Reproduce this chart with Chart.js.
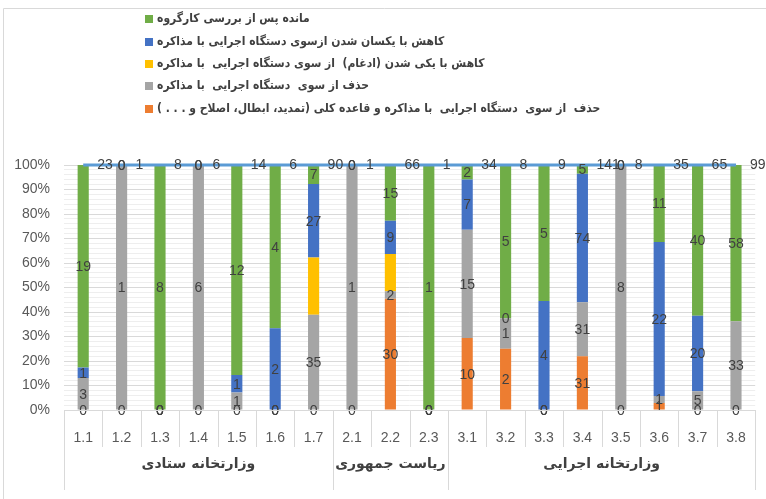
<!DOCTYPE html>
<html>
<head>
<meta charset="utf-8">
<script src="https://cdn.jsdelivr.net/npm/chart.js@4.4.1/dist/chart.umd.min.js"></script>
<style>
  html, body { margin: 0; padding: 0; background: #fff; }
  #wrap { width: 766px; height: 499px; }
</style>
</head>
<body>
<div id="wrap"><canvas id="chart" width="766" height="499"></canvas></div>
<script>
// categorias e grupos do eixo X
const categories = ['1.1', '1.2', '1.3', '1.4', '1.5', '1.6', '1.7', '2.1', '2.2', '2.3',
                    '3.1', '3.2', '3.3', '3.4', '3.5', '3.6', '3.7', '3.8'];
const groupLabels = ['وزارتخانه ستادی', 'ریاست جمهوری', 'وزارتخانه اجرایی'];
const groupSizes  = [7, 3, 8];

// contagens por série (null = célula vazia, sem rótulo)
const orange = [0, 0, 0, 0, 0, 0, 0,   0, 30, 0,   10, 2, 0, 31, 0, 1, 0, 0];
const gray   = [3, 1, 0, 6, 1, 0, 35,  1, 2, 0,    15, 1, 0, 31, 8, 1, 5, 33];
const yellow = [0, 0, 0, 0, 0, 0, 21,  0, 10, 0,   0, 0, 0, 0, 0, 0, 0, 0];
const blue   = [1, 0, 0, 0, 1, 2, 27,  0, 9, 0,    7, 0, 4, 74, 0, 22, 20, null];
const green  = [19, 0, 8, 0, 12, 4, 7, 0, 15, 1,   2, 5, 5, 5, 0, 11, 40, 58];
const totals = [23, 1, 8, 6, 14, 6, 90, 1, 66, 1, 34, 8, 9, 141, 8, 35, 65, 99];

const seriesNames = [
  'حذف  از سوی  دستگاه اجرایی  با مذاکره و قاعده کلی (تمدید، ابطال، اصلاح و . . . )',
  'حذف از سوی  دستگاه اجرایی  با مذاکره',
  'کاهش با یکی شدن (ادغام)  از سوی دستگاه اجرایی  با مذاکره',
  'کاهش با یکسان شدن ازسوی دستگاه اجرایی با مذاکره',
  'مانده پس از بررسی کارگروه',
];

const COLORS = {
  orange: '#ED7D31',
  gray:   '#A5A5A5',
  yellow: '#FFC000',
  blue:   '#4472C4',
  green:  '#70AD47',
  line:   '#5B9BD5',
  text:   '#404040',
  axis:   '#595959',
  grid:   '#d9d9d9',
  gridMinor: '#eeeeee',
};

const NUM_FONT = '"Liberation Sans", Arial, sans-serif';
const FA_FONT  = '"DejaVu Sans", sans-serif';
const FA_LEGEND_FONT = '"DejaVu Sans Condensed", "DejaVu Sans", sans-serif';

const serieCounts = [orange, gray, yellow, blue, green];
const serieColors = [COLORS.orange, COLORS.gray, COLORS.yellow, COLORS.blue, COLORS.green];
const serieLabels = [true, true, false, true, true];

// 100% empilhado: soma de cada coluna
const colSum = categories.map((_, i) => serieCounts.reduce((a, s) => a + (s[i] || 0), 0));
const pct = (arr) => arr.map((v, i) => colSum[i] ? (v || 0) / colSum[i] * 100 : 0);

const barDatasets = serieCounts.map((arr, k) => ({
  type: 'bar',
  label: seriesNames[k],
  data: pct(arr),
  counts: arr,
  showLabels: serieLabels[k],
  backgroundColor: serieColors[k],
  stack: 'pct',
  order: 1,
  barPercentage: 0.29,
  categoryPercentage: 1,
}));

const lineDataset = {
  type: 'line',
  label: 'total',
  data: totals.map(() => 100),
  counts: totals,
  borderColor: COLORS.line,
  borderWidth: 3,
  pointRadius: 0,
  stack: 'total',
  order: 0,
  clip: false,
};

// rótulos de dados (segmentos + totais)
const labelsPlugin = {
  id: 'dataLabels',
  afterDatasetsDraw(chart) {
    const ctx = chart.ctx;
    ctx.save();
    ctx.font = '14px ' + NUM_FONT;
    ctx.fillStyle = COLORS.text;
    ctx.textBaseline = 'middle';
    chart.data.datasets.forEach((ds, di) => {
      const meta = chart.getDatasetMeta(di);
      if (ds.type === 'bar') {
        if (!ds.showLabels) return;
        ctx.textAlign = 'center';
        meta.data.forEach((el, i) => {
          const v = ds.counts[i];
          if (v === null || v === undefined) return;
          ctx.fillText(String(v), el.x, (el.y + el.base) / 2 + 1);
        });
      } else {
        ctx.textAlign = 'left';
        meta.data.forEach((el, i) => {
          ctx.fillText(String(ds.counts[i]), el.x + 14, el.y);
        });
      }
    });
    ctx.restore();
  },
};

// eixo multinível, legenda e moldura
const decorPlugin = {
  id: 'decor',
  afterDraw(chart) {
    const ctx = chart.ctx;
    const area = chart.chartArea;
    const step = (area.right - area.left) / categories.length;
    ctx.save();

    // moldura do gráfico
    ctx.strokeStyle = COLORS.grid;
    ctx.lineWidth = 1;
    ctx.beginPath();
    ctx.moveTo(3.5, 499); ctx.lineTo(3.5, 8.5); ctx.lineTo(766, 8.5);
    ctx.stroke();

    // linha do eixo X
    ctx.beginPath();
    ctx.moveTo(area.left, area.bottom + 0.5);
    ctx.lineTo(area.right, area.bottom + 0.5);
    ctx.stroke();

    // divisórias entre categorias
    const bounds = [0];
    groupSizes.reduce((acc, n) => { bounds.push(acc + n); return acc + n; }, 0);
    for (let i = 0; i <= categories.length; i++) {
      const px = Math.round(area.left + i * step) + 0.5;
      const long = bounds.includes(i);
      ctx.beginPath();
      ctx.moveTo(px, area.bottom);
      ctx.lineTo(px, long ? 490 : 447);
      ctx.stroke();
    }

    // rótulos de grupo
    ctx.fillStyle = COLORS.text;
    ctx.font = 'bold 14px ' + FA_FONT;
    ctx.textAlign = 'center';
    ctx.textBaseline = 'middle';
    ctx.direction = 'rtl';
    groupLabels.forEach((g, k) => {
      const a = area.left + bounds[k] * step;
      const b = area.left + bounds[k + 1] * step;
      ctx.fillText(g, (a + b) / 2, 464);
    });

    // legenda
    const legendOrder = [4, 3, 2, 1, 0];
    const rowY = [19, 42, 64, 86, 109];
    ctx.font = 'bold 12px ' + FA_LEGEND_FONT;
    ctx.textAlign = 'left';
    legendOrder.forEach((k, r) => {
      ctx.fillStyle = serieColors[k];
      ctx.fillRect(145, rowY[r] - 4, 8, 8);
      ctx.fillStyle = COLORS.text;
      ctx.fillText(seriesNames[k], 157, rowY[r]);
    });
    ctx.restore();
  },
};

new Chart(document.getElementById('chart'), {
  data: {
    labels: categories,
    datasets: [...barDatasets, lineDataset],
  },
  options: {
    responsive: false,
    animation: false,
    devicePixelRatio: 1,
    layout: { padding: { top: 165, right: 10, left: 0, bottom: 0 } },
    plugins: {
      legend: { display: false },
      tooltip: { enabled: false },
    },
    scales: {
      x: {
        stacked: true,
        grid: { display: false, drawTicks: false },
        border: { display: false },
        ticks: { color: COLORS.axis, font: { family: NUM_FONT, size: 14 }, padding: 20, maxRotation: 0, autoSkip: false },
        afterFit: (s) => { s.height = 89; },
      },
      y: {
        stacked: true,
        min: 0,
        max: 100,
        grid: {
          drawTicks: false,
          color: (c) => (c.tick && c.tick.value % 10 === 0) ? COLORS.grid : COLORS.gridMinor,
        },
        border: { display: false },
        ticks: {
          stepSize: 2,
          autoSkip: false,
          padding: 14,
          color: COLORS.axis,
          font: { family: NUM_FONT, size: 14 },
          callback: (v) => v % 10 === 0 ? v + '%' : '',
        },
        afterFit: (s) => { s.width = 64; },
      },
    },
  },
  plugins: [labelsPlugin, decorPlugin],
});
</script>
</body>
</html>
